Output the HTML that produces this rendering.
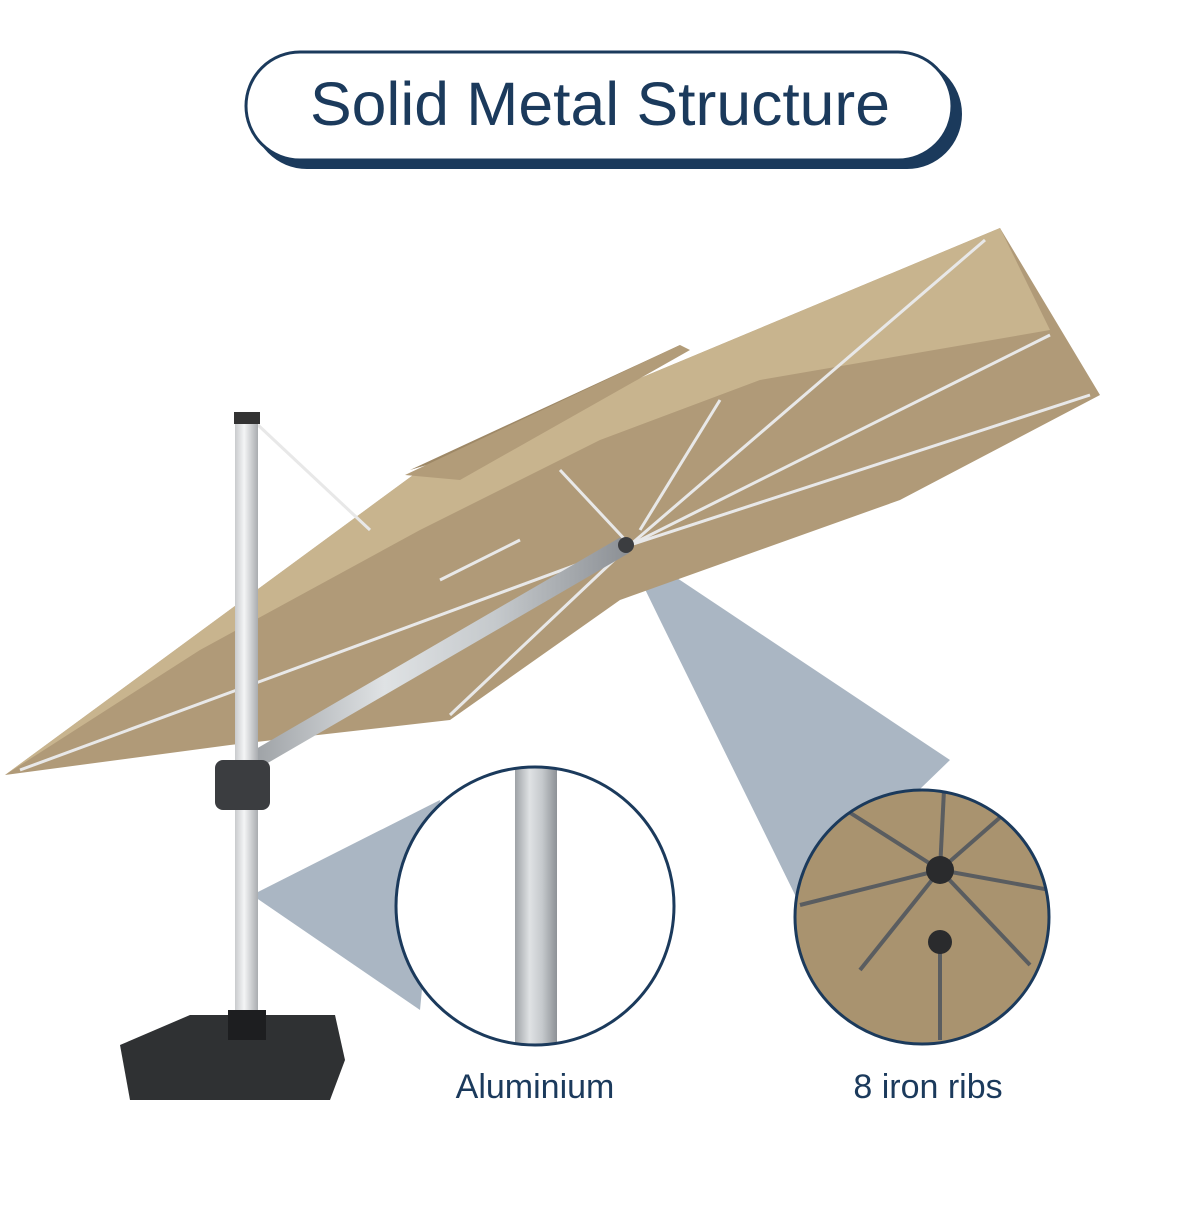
<!DOCTYPE html>
<html><head><meta charset="utf-8"><style>
html,body{margin:0;padding:0;background:#fff;}
body{width:1200px;height:1200px;overflow:hidden;font-family:"Liberation Sans","DejaVu Sans",sans-serif;}
</style></head><body>
<svg width="1200" height="1200" viewBox="0 0 1200 1200" xmlns="http://www.w3.org/2000/svg">
<defs>
<linearGradient id="pole" x1="0" x2="1"><stop offset="0" stop-color="#c9cbcd"/><stop offset="0.4" stop-color="#f4f5f6"/><stop offset="1" stop-color="#a9acaf"/></linearGradient>
<linearGradient id="pole2" x1="0" x2="1"><stop offset="0" stop-color="#9ea2a6"/><stop offset="0.35" stop-color="#dfe2e4"/><stop offset="0.65" stop-color="#c5c9cc"/><stop offset="1" stop-color="#8d9196"/></linearGradient>
<clipPath id="c1"><circle cx="535" cy="906" r="139"/></clipPath>
<clipPath id="c2"><circle cx="922" cy="917" r="127"/></clipPath>
</defs>
<rect x="252" y="59" width="710" height="110" rx="55" fill="#1b3a5c"/>
<rect x="246" y="52" width="706" height="108" rx="54" fill="#fff" stroke="#1b3a5c" stroke-width="3"/>
<text x="600" y="125" text-anchor="middle" font-size="61" fill="#1b3a5c" textLength="580" lengthAdjust="spacingAndGlyphs">Solid Metal Structure</text>

<polygon points="625,548 650,560 950,760 800,905 660,620" fill="#aab6c3"/>
<polygon points="252,895 440,800 420,1010" fill="#aab6c3"/>

<polygon points="5,775 420,470 1000,228 1100,395 900,500 620,600 450,720 230,745" fill="#b09a78"/>
<polygon points="5,775 420,470 1000,228 1050,330 760,380 600,440 420,530 200,650" fill="#c8b48e"/>
<polygon points="410,470 680,345 670,358 470,452" fill="#9e8866"/>
<polygon points="405,475 680,345 690,350 460,480" fill="#b29c79"/>
<g stroke="#e8e8e8" stroke-width="3" fill="none">
<line x1="630" y1="545" x2="985" y2="240"/>
<line x1="630" y1="545" x2="1050" y2="335"/>
<line x1="630" y1="545" x2="1090" y2="395"/>
<line x1="630" y1="545" x2="450" y2="715"/>
<line x1="630" y1="545" x2="20" y2="770"/>
<line x1="630" y1="545" x2="560" y2="470"/>
<line x1="720" y1="400" x2="640" y2="530"/>
<line x1="520" y1="540" x2="440" y2="580"/>
<line x1="258" y1="425" x2="370" y2="530"/>
</g>
<line x1="255" y1="760" x2="625" y2="545" stroke="url(#pole2)" stroke-width="18"/>
<rect x="235" y="418" width="23" height="612" fill="url(#pole)"/>
<rect x="234" y="412" width="26" height="12" fill="#333"/>
<rect x="215" y="760" width="55" height="50" rx="8" fill="#3b3d40"/>
<circle cx="626" cy="545" r="8" fill="#3b3d40"/>
<polygon points="120,1045 190,1015 335,1015 345,1060 330,1100 130,1100" fill="#2f3133"/>
<rect x="228" y="1010" width="38" height="30" fill="#1d1e20"/>

<circle cx="535" cy="906" r="139" fill="#fff"/>
<g clip-path="url(#c1)"><rect x="515" y="760" width="42" height="300" fill="url(#pole2)"/></g>
<circle cx="535" cy="906" r="139" fill="none" stroke="#1b3a5c" stroke-width="3"/>

<circle cx="922" cy="917" r="127" fill="#a9936f"/>
<g clip-path="url(#c2)" stroke="#5a5d60" stroke-width="4">
<line x1="940" y1="870" x2="945" y2="770"/>
<line x1="940" y1="870" x2="800" y2="905"/>
<line x1="940" y1="870" x2="1050" y2="890"/>
<line x1="940" y1="870" x2="830" y2="800"/>
<line x1="940" y1="870" x2="1020" y2="800"/>
<line x1="940" y1="870" x2="860" y2="970"/>
<line x1="940" y1="870" x2="1030" y2="965"/>
<line x1="940" y1="940" x2="940" y2="1040"/>
<circle cx="940" cy="870" r="14" fill="#2a2b2d" stroke="none"/>
<circle cx="940" cy="942" r="12" fill="#2a2b2d" stroke="none"/>
</g>
<circle cx="922" cy="917" r="127" fill="none" stroke="#1b3a5c" stroke-width="3"/>

<text x="535" y="1098" text-anchor="middle" font-size="34" fill="#1b3a5c">Aluminium</text>
<text x="928" y="1098" text-anchor="middle" font-size="34" fill="#1b3a5c">8 iron ribs</text>
</svg>
</body></html>
